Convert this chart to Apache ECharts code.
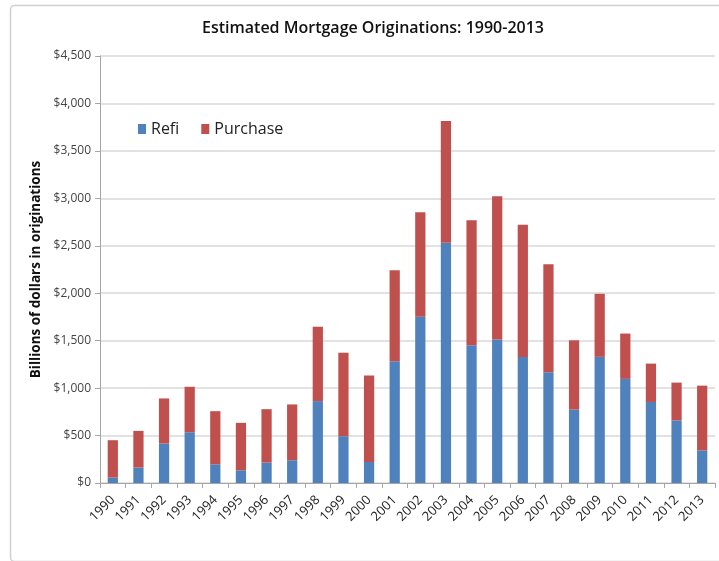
<!DOCTYPE html>
<html><head><meta charset="utf-8">
<script src="https://cdn.jsdelivr.net/npm/echarts@6/dist/echarts.min.js"></script>
<style>html,body{margin:0;padding:0;background:#fff}#c{width:719px;height:561px}</style>
</head><body><div id="c"></div>
<script>
const years = ['1990','1991','1992','1993','1994','1995','1996','1997','1998','1999','2000','2001','2002','2003','2004','2005','2006','2007','2008','2009','2010','2011','2012','2013'];
const refi = [57,163,416,535,197,134,215,240,863,493,222,1283,1751,2532,1452,1512,1329,1167,773,1329,1097,854,660,344];
const purchase = [394,386,475,479,560,500,563,588,784,880,912,960,1103,1282,1318,1511,1393,1139,731,665,478,404,398,682];
const yTicks = [0,500,1000,1500,2000,2500,3000,3500,4000,4500];

const chart = echarts.init(document.getElementById('c'));
const font = 'Open Sans';
chart.setOption({
  animation:false,
  backgroundColor:'#fff',
  graphic:[{type:'rect',left:8,top:3,shape:{width:740,height:556,r:4},style:{fill:'none',stroke:'#d0d0d0',lineWidth:1.5},silent:true}],
  title:{text:'Estimated Mortgage Originations: 1990-2013',left:368,top:15,textAlign:'center',
    textStyle:{fontFamily:font,fontSize:16,fontWeight:600,color:'#111'}},
  legend:{left:133,top:116,itemWidth:8,itemHeight:10,itemGap:22,icon:'rect',
    textStyle:{fontFamily:font,fontSize:16,color:'#222'},
    data:['Refi','Purchase']},
  grid:{left:100,right:4,top:56,bottom:78},
  xAxis:{type:'category',data:years,boundaryGap:true,
    axisLine:{lineStyle:{color:'#a6a6a6'}},
    axisTick:{show:true,alignWithLabel:false,length:5,lineStyle:{color:'#a6a6a6'}},
    axisLabel:{rotate:45,interval:0,fontFamily:font,fontSize:13,color:'#222',margin:15}},
  yAxis:{type:'value',min:0,max:4500,interval:500,
    name:'Billions of dollars in originations',nameLocation:'middle',nameGap:56,nameRotate:90,
    nameTextStyle:{fontFamily:font,fontSize:13.5,fontWeight:'bold',color:'#111'},
    axisLine:{show:true,lineStyle:{color:'#a6a6a6'}},
    axisTick:{show:true,length:5,lineStyle:{color:'#a6a6a6'}},
    splitLine:{lineStyle:{color:'#d9d9d9',width:1.5}},
    axisLabel:{fontFamily:font,fontSize:12,color:'#444',margin:9,
      formatter:v=>yTicks.includes(v)?'$'+v.toLocaleString('en-US'):''}},
  series:[
    {name:'Refi',type:'bar',stack:'t',data:refi,barWidth:'40%',itemStyle:{color:'#4F81BD'}},
    {name:'Purchase',type:'bar',stack:'t',data:purchase,barWidth:'40%',itemStyle:{color:'#C0504D'}}
  ]
});
</script></body></html>
